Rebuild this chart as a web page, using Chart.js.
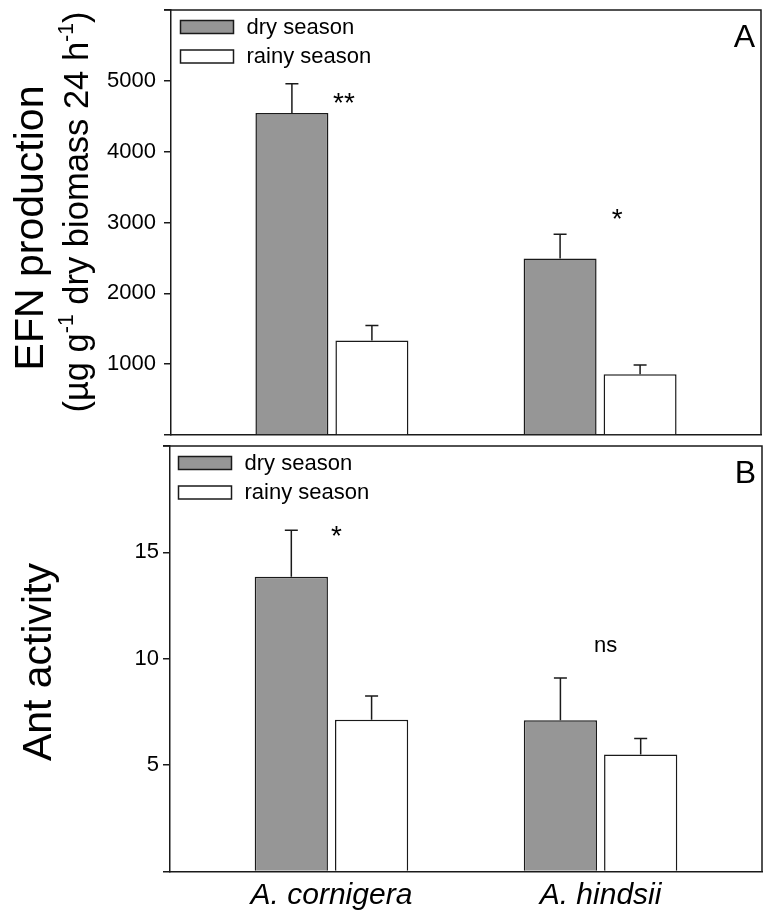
<!DOCTYPE html>
<html>
<head>
<meta charset="utf-8">
<script src="https://cdn.jsdelivr.net/npm/chart.js@4.4.1/dist/chart.umd.min.js"></script>
<style>
  html, body { margin: 0; padding: 0; background: #fff; }
  #wrap { position: relative; width: 769px; height: 919px; }
  #panelA { position: absolute; left: 0; top: 0; }
  #panelB { position: absolute; left: 0; top: 436px; }
</style>
</head>
<body>
<div id="wrap">
  <canvas id="panelA" width="769" height="440"></canvas>
  <canvas id="panelB" width="769" height="483"></canvas>
</div>
<script>
// Datos
const categories = ['A. cornigera', 'A. hindsii'];
const seasons = ['dry season', 'rainy season'];

// Panel A: produccion de NEF
const efnDry = [4545, 2493];
const efnDryErr = [413, 342];
const efnRainy = [1334, 859];
const efnRainyErr = [211, 131];
const efnSig = ['**', '*'];
const efnTicks = [1000, 2000, 3000, 4000, 5000];

// Panel B: actividad de hormigas
const antDry = [13.86, 7.11];
const antDryErr = [2.18, 1.98];
const antRainy = [7.13, 5.5];
const antRainyErr = [1.12, 0.75];
const antSig = ['*', 'ns'];
const antTicks = [5, 10, 15];

const FONT = "'Liberation Sans', Arial, sans-serif";
const INK = '#1a1a1a';

// Barras de error (solo hacia arriba)
const errorBars = {
    id: 'errorBars',
    afterDatasetsDraw(chart) {
        const { ctx } = chart;
        const y = chart.scales.y;
        ctx.save();
        ctx.strokeStyle = INK;
        ctx.lineWidth = 1.5;
        chart.data.datasets.forEach((ds, di) => {
            chart.getDatasetMeta(di).data.forEach((bar, i) => {
                const top = y.getPixelForValue(ds.data[i].y + ds.errors[i]);
                ctx.beginPath();
                ctx.moveTo(bar.x, bar.y);
                ctx.lineTo(bar.x, top);
                ctx.moveTo(bar.x - 6.5, top);
                ctx.lineTo(bar.x + 6.5, top);
                ctx.stroke();
            });
        });
        ctx.restore();
    }
};

// Marco, leyenda, letra del panel, significancia y titulo del eje Y
const decor = {
    id: 'decor',
    afterDraw(chart, args, opts) {
        const { ctx, chartArea: a } = chart;
        const x = chart.scales.x, y = chart.scales.y;
        ctx.save();
        ctx.strokeStyle = INK;
        ctx.lineWidth = 1.5;
        ctx.beginPath();
        ctx.moveTo(a.left - 7, a.top);
        ctx.lineTo(a.right, a.top);
        ctx.lineTo(a.right, a.bottom);
        ctx.stroke();

        // Leyenda dentro del area
        ctx.font = `22px ${FONT}`;
        ctx.textAlign = 'left';
        ctx.textBaseline = 'middle';
        chart.data.datasets.forEach((ds, k) => {
            const bx = a.left + opts.legendDx;
            const by = a.top + 10.5 + k * 29.5;
            ctx.fillStyle = ds.backgroundColor;
            ctx.fillRect(bx, by, 53, 13);
            ctx.strokeRect(bx, by, 53, 13);
            ctx.fillStyle = '#000';
            ctx.fillText(ds.label, bx + 66, by + 7);
        });

        ctx.font = `32px ${FONT}`;
        ctx.textAlign = 'right';
        ctx.textBaseline = 'alphabetic';
        ctx.fillText(opts.letter, a.right - 6, a.top + 37);

        // Significancia
        ctx.textAlign = 'center';
        ctx.textBaseline = 'middle';
        opts.sig.forEach((s, i) => {
            ctx.font = s === 'ns' ? `22px ${FONT}` : `28px ${FONT}`;
            const px = x.getPixelForValue(i + 1) + opts.sigDx[i];
            const py = y.getPixelForValue(opts.sigAt[i]) + (s === 'ns' ? 0 : 6);
            ctx.fillText(s, px, py);
        });

        // Titulo del eje Y (con superindices)
        const cy = opts.titleY;
        opts.title.forEach(line => {
            ctx.save();
            ctx.translate(line.x, cy + (line.dy || 0));
            ctx.rotate(-Math.PI / 2);
            ctx.textAlign = 'left';
            ctx.textBaseline = 'middle';
            const parts = line.parts.map(p => {
                const size = p.sup ? line.size * 0.62 : line.size;
                ctx.font = `${size}px ${FONT}`;
                return { text: p.text, size, sup: p.sup, w: ctx.measureText(p.text).width };
            });
            let cx = -parts.reduce((s, p) => s + p.w, 0) / 2;
            parts.forEach(p => {
                ctx.font = `${p.size}px ${FONT}`;
                ctx.fillText(p.text, cx, p.sup ? -line.size * 0.33 : 0);
                cx += p.w;
            });
            ctx.restore();
        });
        ctx.restore();
    }
};

function makePanel(id, o) {
    const ctx = document.getElementById(id).getContext('2d');
    const fills = ['#969696', '#ffffff'];
    const datasets = [o.dry, o.rainy].map((vals, k) => ({
        label: seasons[k],
        data: vals.map((v, i) => ({ x: i + 1, y: v })),
        errors: k === 0 ? o.dryErr : o.rainyErr,
        backgroundColor: fills[k],
        borderColor: INK,
        borderWidth: 1.5,
        categoryPercentage: 0.5966,
        barPercentage: 0.9125
    }));

    return new Chart(ctx, {
        type: 'bar',
        data: { datasets },
        options: {
            responsive: false,
            animation: false,
            events: [],
            layout: { padding: o.padding },
            plugins: {
                legend: { display: false },
                tooltip: { enabled: false },
                decor: {
                    letter: o.letter,
                    legendDx: o.legendDx,
                    sig: o.sig,
                    sigAt: o.sigAt,
                    sigDx: o.sigDx,
                    title: o.title,
                    titleY: o.titleY
                }
            },
            scales: {
                x: {
                    type: 'linear',
                    offset: false,
                    min: 0.4,
                    max: 2.6,
                    afterBuildTicks: s => { s.ticks = categories.map((c, i) => ({ value: i + 1 })); },
                    ticks: {
                        display: o.showX,
                        autoSkip: false,
                        maxRotation: 0,
                        padding: 6,
                        color: '#000',
                        font: { family: FONT, size: 30, style: 'italic' },
                        callback: v => categories[v - 1]
                    },
                    grid: { display: false, drawTicks: false, offset: false },
                    border: { display: true, color: INK, width: 1.5 },
                    afterFit: s => {
                        s.height = o.xHeight;
                        s.paddingLeft = 0;
                        s.paddingRight = 0;
                    }
                },
                y: {
                    min: 0,
                    max: o.yMax,
                    afterBuildTicks: s => { s.ticks = [0, ...o.ticks, o.yMax].map(v => ({ value: v })); },
                    ticks: {
                        padding: o.tickPad,
                        color: '#000',
                        font: { family: FONT, size: 22 },
                        callback: v => o.ticks.includes(v) ? String(v) : ''
                    },
                    grid: { drawOnChartArea: false, tickLength: 7, color: INK, lineWidth: 1.5 },
                    border: { color: INK, width: 1.5 },
                    afterFit: s => {
                        s.width = o.yWidth;
                        s.paddingTop = 0;
                        s.paddingBottom = 0;
                    }
                }
            }
        },
        plugins: [errorBars, decor]
    });
}

makePanel('panelA', {
    dry: efnDry, dryErr: efnDryErr, rainy: efnRainy, rainyErr: efnRainyErr,
    ticks: efnTicks, yMax: 6000, sig: efnSig, sigAt: [4750, 3110], sigDx: [12, 17],
    letter: 'A', legendDx: 9.5, showX: false, xHeight: 0, yWidth: 171, tickPad: 8,
    padding: { top: 10, right: 8, bottom: 5, left: 0 },
    titleY: 228,
    title: [
        { x: 32, size: 41, parts: [{ text: 'EFN production' }] },
        { x: 78, size: 34.5, dy: -16, parts: [
            { text: '(µg g' }, { text: '-1', sup: true },
            { text: ' dry biomass 24 h' }, { text: '-1', sup: true }, { text: ')' }
        ] }
    ]
});

makePanel('panelB', {
    dry: antDry, dryErr: antDryErr, rainy: antRainy, rainyErr: antRainyErr,
    ticks: antTicks, yMax: 20, sig: antSig, sigAt: [15.98, 10.58], sigDx: [5, 5],
    letter: 'B', legendDx: 8.5, showX: true, xHeight: 47.5, yWidth: 170, tickPad: 4,
    padding: { top: 10, right: 7, bottom: 0, left: 0 },
    titleY: 226,
    title: [
        { x: 40, size: 41, parts: [{ text: 'Ant activity' }] }
    ]
});
</script>
</body>
</html>
